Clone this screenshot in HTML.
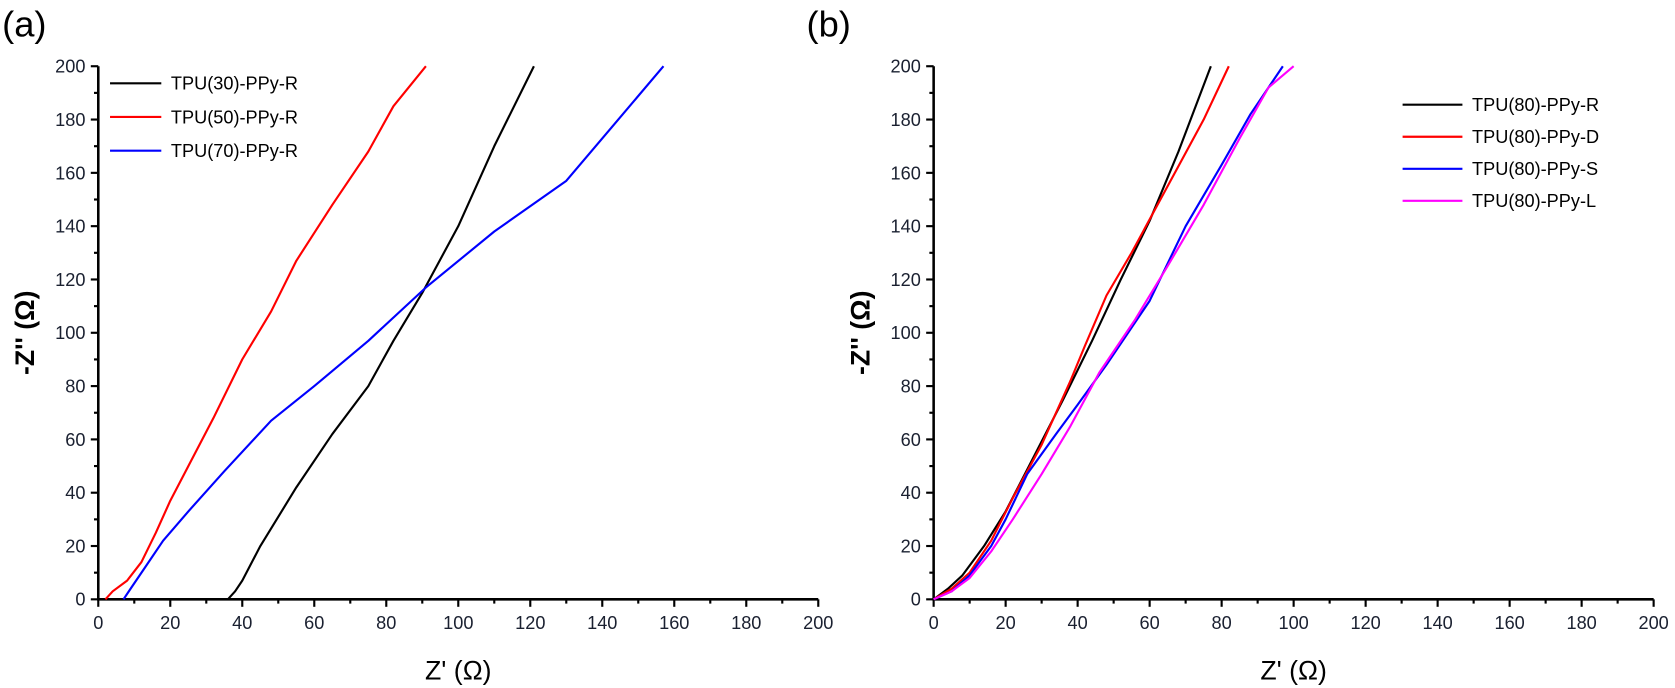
<!DOCTYPE html>
<html><head><meta charset="utf-8"><style>
html,body{margin:0;padding:0;background:#fff;}
svg{display:block;font-family:"Liberation Sans",sans-serif;}
</style></head><body>
<svg id="chart" width="1675" height="688" viewBox="0 0 1568 644" preserveAspectRatio="none" xmlns="http://www.w3.org/2000/svg"></svg>
<script>
const ticks = [0,20,40,60,80,100,120,140,160,180,200];
const seriesA_names = ["TPU(30)-PPy-R","TPU(50)-PPy-R","TPU(70)-PPy-R"];
const seriesA_colors = ["#000","#ff0000","#0000ff"];
const a30_x=[36,38,40,45,55,65,75,82,90,100,110,121];
const a30_y=[0,3,7,20,42,62,80,97,115,140,170,200];
const a50_x=[2,4,8,12,16,20,25,32,40,48,55,65,75,82,91];
const a50_y=[0,3,7,14,25,37,50,68,90,108,127,148,168,185,200];
const a70_x=[7,9,13,18,25,35,48,60,75,91,110,130,157];
const a70_y=[0,4,12,22,33,48,67,80,97,117,138,157,200];
const seriesB_names=["TPU(80)-PPy-R","TPU(80)-PPy-D","TPU(80)-PPy-S","TPU(80)-PPy-L"];
const seriesB_colors=["#000","#ff0000","#0000ff","#ff00ff"];
const bR_x=[0,4,8,14,20,28,36,44,52,60,68,77];
const bR_y=[0,4,9,20,33,54,75,97,120,142,168,200];
const bD_x=[0,5,10,16,22,30,38,42,48,55,65,75,82];
const bD_y=[0,4,10,22,38,58,82,95,114,130,155,180,200];
const bS_x=[0,5,10,16,20,26,34,40,48,60,70,80,88,97];
const bS_y=[0,3,9,20,30,47,62,73,88,112,140,163,182,200];
const bL_x=[0,5,10,16,22,30,38,46,56,65,75,85,93,100];
const bL_y=[0,3,8,18,30,47,65,85,105,125,148,173,192,200];

const NS="http://www.w3.org/2000/svg";
const svg=document.getElementById('chart');
function mk(tag,attrs,parent){const e=document.createElementNS(NS,tag);for(const k in attrs)e.setAttribute(k,attrs[k]);(parent||svg).appendChild(e);return e;}

function panel(id,x0,label,labelX,names,colors,xs,ys,legend){
  const g=mk('g',{});
  
  
  const X=v=>x0+v*(674/200), Y=v=>561-v*(499/200);
  const pl=mk('text',{x:labelX,y:34,'font-size':34},g);pl.textContent=label;
  
  
  const ax=mk('path',{d:`M${X(0)},${Y(200)}V${Y(0)}H${X(200)}`,stroke:'#000','stroke-width':2.4,fill:'none'},g);
  
  
  for(let v=0;v<=200;v+=10){
    const major=v%20===0, L=major?7:4;
    mk('line',{x1:X(v),x2:X(v),y1:Y(0),y2:Y(0)+L,stroke:'#000','stroke-width':2},g);
    mk('line',{x1:X(0)-L,x2:X(0),y1:Y(v),y2:Y(v),stroke:'#000','stroke-width':2},g);
  }
  ticks.forEach(t=>{
    const tx=mk('text',{x:X(t),y:Y(0)+28,'font-size':17,'text-anchor':'middle',fill:'#1a2030'},g);tx.textContent=t;
    
    
    const ty=mk('text',{x:X(0)-12,y:Y(t)+6,'font-size':17,'text-anchor':'end',fill:'#1a2030'},g);ty.textContent=t;
    
    
  });
  const xt=mk('text',{x:X(100),y:636,'font-size':25,'text-anchor':'middle'},g);xt.textContent="Z' (Ω)";
  
  
  const yt=mk('text',{x:0,y:0,'font-size':25,'font-weight':'bold','text-anchor':'middle',transform:`translate(${X(0)-60},${Y(100)}) rotate(-90)`},g);yt.textContent="-Z'' (Ω)";
  
  
  xs.forEach((arr,i)=>{
    const d=arr.map((v,j)=>(j?'L':'M')+X(v).toFixed(1)+','+Y(ys[i][j]).toFixed(1)).join('');
    const p=mk('path',{d,stroke:colors[i],'stroke-width':2,fill:'none','stroke-linejoin':'round'},g);
    
    
    const ly=legend.y+i*legend.dy;
    const ll=mk('line',{x1:legend.x,x2:legend.x+legend.w,y1:ly,y2:ly,stroke:colors[i],'stroke-width':2},g);
    
    
    const lt=mk('text',{x:legend.x+legend.w+9,y:ly+6,'font-size':17},g);lt.textContent=names[i];
    
    
  });
}
panel('a',92,'(a)',2,seriesA_names,seriesA_colors,[a30_x,a50_x,a70_x],[a30_y,a50_y,a70_y],{x:103,w:48,y:78,dy:31.5});
panel('b',874,'(b)',755,seriesB_names,seriesB_colors,[bR_x,bD_x,bS_x,bL_x],[bR_y,bD_y,bS_y,bL_y],{x:1313,w:56,y:98,dy:30});
</script>
</body></html>
